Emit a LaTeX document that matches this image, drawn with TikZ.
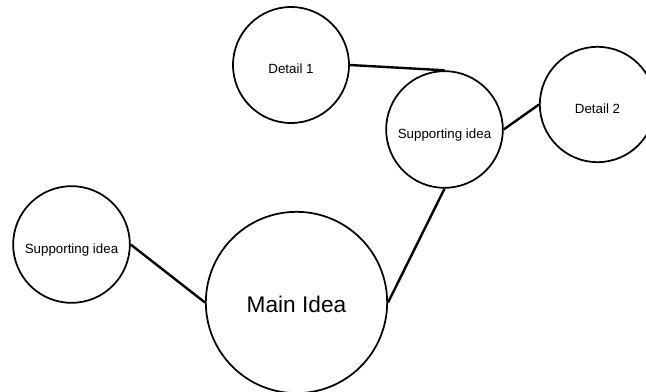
\documentclass[tikz,border=0pt]{standalone}
\usepackage{fontspec}
\setmainfont{Liberation Sans}

\tikzset{every picture/.style={line width=0.75pt}}
\tikzset{
	bubble/.style={draw, circle, inner sep=0pt, line width=1.3pt, text height=1.3em, text depth=0pt, font=\fontsize{10}{12}\selectfont},
	link/.style={line width=1.8pt}
}

\begin{document}
\begin{tikzpicture}[x=0.75pt,y=0.75pt,yscale=-1,xscale=1]
	\useasboundingbox (0,0) rectangle (646,392);

	%Shape: Circle
	\node [bubble, minimum size=87pt] (detailone) at (291,65) {Detail 1};
	%Shape: Circle
	\node [bubble, minimum size=87.5pt] (supportright) at (444.5,129.5) {Supporting idea};
	%Shape: Circle
	\node [bubble, minimum size=86.5pt] (detailtwo) at (597.5,104.5) {Detail 2};
	%Shape: Circle
	\node [bubble, minimum size=87.5pt] (supportleft) at (71.5,244.5) {Supporting idea};
	%Shape: Circle
	\node [bubble, minimum size=136pt, text height=1.45em, font=\fontsize{17}{20}\selectfont] (mainidea) at (296.5,302.5) {Main Idea};

	%Straight Lines
	\draw [link] (detailone.east) -- (supportright.north);
	%Straight Lines
	\draw [link] (supportright.east) -- (detailtwo.west);
	%Straight Lines
	\draw [link] (supportright.south) -- (mainidea.east);
	%Straight Lines
	\draw [link] (supportleft.east) -- (mainidea.west);

\end{tikzpicture}
\end{document}
